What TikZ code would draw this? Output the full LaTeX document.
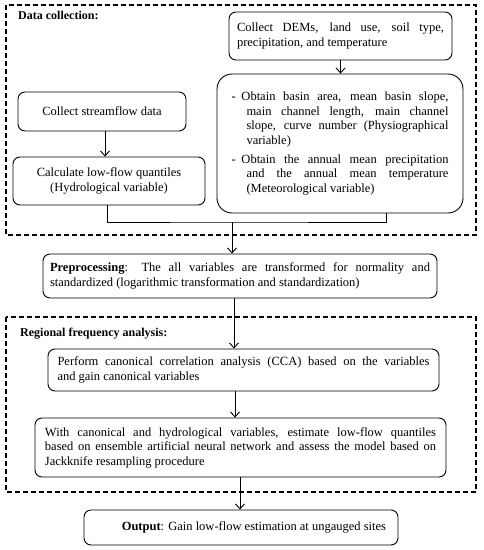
\documentclass[tikz,border=0pt]{standalone}
\usepackage{fontspec}
\setmainfont{Liberation Serif}
\usetikzlibrary{arrows.meta}
\usetikzlibrary{positioning,calc}
\hyphenpenalty=10000
\exhyphenpenalty=10000
\tolerance=9999
\emergencystretch=10pt
% dashed item with hanging lines
\newcommand{\dashitem}[1]{\makebox[15pt][l]{-}\parbox[t]{202pt}{\hspace*{-5pt}#1}}

\begin{document}
\begin{tikzpicture}[x=1pt,y=-1pt,
    font=\fontsize{12.5}{14.5}\selectfont,
    box/.style={draw,rounded corners=7pt,line width=0.9pt,inner ysep=2pt,align=justify},
    group/.style={draw,line width=1.3pt,dash pattern=on 5pt off 3pt},
    arr/.style={-{Straight Barb[length=5pt,width=9pt]},line width=0.9pt},
    title/.style={anchor=base west,inner sep=0pt,font=\fontsize{12}{14.5}\selectfont\bfseries}]
    \useasboundingbox (0,0) rectangle (483,550);
    % Dashed groups
    \draw[group] (6,5) rectangle (476,235);
    \draw[group] (6,317) rectangle (476,492);
    \node[title] (tdata) at (18,19) {Data collection:};
    \node[title] (tregion) at (20,336) {Regional frequency analysis:};

    % Data collection
    \node[box,text width=207pt,inner xsep=8pt,minimum height=48pt] (dems) at (340.5,36)
      {Collect DEMs, land use, soil type,\linebreak precipitation, and temperature};
    \node[box,rounded corners=15pt,text width=217pt,inner xsep=14.5pt,minimum height=139pt] (phys) at (340,143.5)
      {\dashitem{Obtain basin area, mean basin slope,\linebreak main channel length, main channel\linebreak slope, curve number (Physiographical\linebreak variable)}\par\vspace{7pt}
       \dashitem{Obtain the annual mean precipitation\linebreak and the annual mean temperature\linebreak (Meteorological variable)}};
    \node[box,align=flush center,text width=156pt,inner xsep=6pt,minimum height=39pt] (flow) at (102,111.5)
      {Collect streamflow data};
    \node[box,align=flush center,text width=180pt,inner xsep=6pt,minimum height=48pt] (calc) at (109,181)
      {Calculate low-flow quantiles\\(Hydrological variable)};

    % Processing chain
    \node[box,text width=380pt,inner xsep=7pt,minimum height=44pt] (prep) at (240,276)
      {\textbf{Preprocessing}: The all variables are transformed for normality and\linebreak standardized (logarithmic transformation and standardization)};
    \node[box,text width=372pt,inner xsep=9.5pt,minimum height=42pt] (cca) at (243.5,370)
      {Perform canonical correlation analysis (CCA) based on the variables\linebreak and gain canonical variables};
    \node[box,text width=391pt,inner xsep=10pt,minimum height=59pt] (ann) at (240.5,447.5)
      {With canonical and hydrological variables, estimate low-flow quantiles\linebreak based on ensemble artificial neural network and assess the model based on\linebreak Jackknife resampling procedure};
    \node[box,align=flush right,text width=290pt,inner xsep=12pt,minimum height=35pt] (out) at (241,527.5)
      {\textbf{Output}: Gain low-flow estimation at ungauged sites};

    \coordinate (join) at (232,222);
    \draw[arr] (dems) -- (dems |- phys.north);
    \draw[arr] (flow.south -| 105,0) -- (calc.north -| 105,0);
    \draw[line width=0.9pt] (calc.south -| 107,0) |- (join) -| (phys.south -| 386,0);
    \draw[arr] (join) -- (join |- prep.north);
    \draw[arr] (prep.south -| 234,0) -- (cca.north -| 234,0);
    \draw[arr] (cca.south -| 235,0) -- (ann.north -| 235,0);
    \draw[arr] (ann.south -| 240,0) -- (out.north -| 240,0);
\end{tikzpicture}
\end{document}
